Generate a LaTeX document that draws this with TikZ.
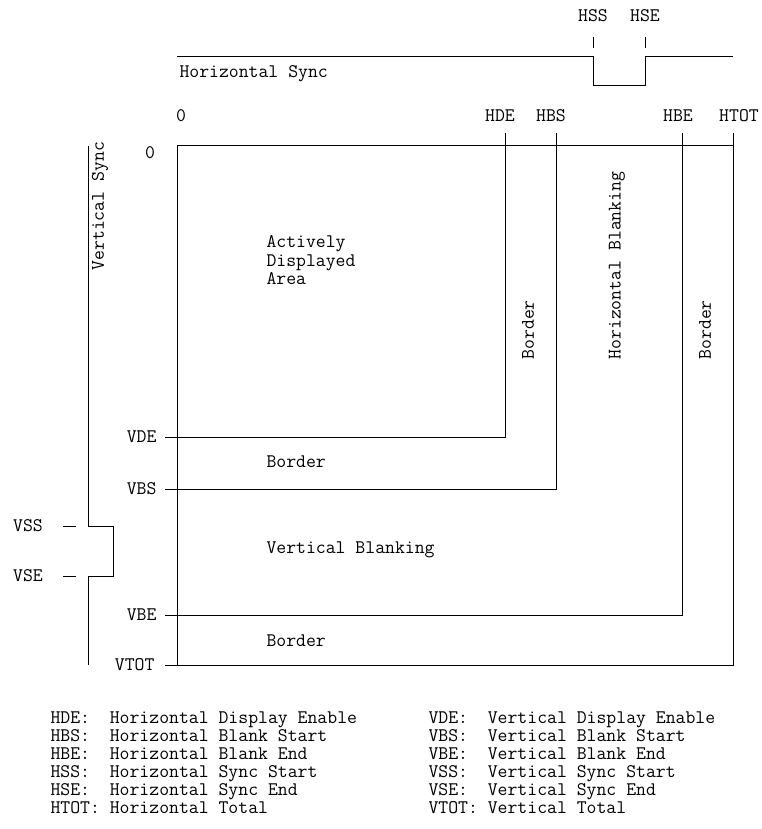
\documentclass[tikz,border=0pt]{standalone}
\usetikzlibrary{positioning}
\begin{document}
\begin{tikzpicture}[x=1pt,y=-1pt,line width=1pt,
  lbl/.style={font=\ttfamily\fontsize{19.2}{18.5}\selectfont,inner sep=0pt},
  uplbl/.style={lbl,rotate=90,anchor=west},
  key/.style={lbl,anchor=west},
  keyrow/.style={lbl,anchor=base west}]
  \useasboundingbox (0,0) rectangle (762,829);
  % horizontal sync
  \node[lbl] (hss) at (593,16) {HSS};
  \node[lbl] (hse) at (645,16) {HSE};
  \draw ([yshift=-14pt]hss.south) -- ++(0,11);
  \draw ([yshift=-14pt]hse.south) -- ++(0,11);
  \coordinate (hs0) at (177,57); \coordinate (hs1) at (593,57);
  \coordinate (hs2) at (645,57); \coordinate (hs3) at (733,57);
  \draw (hs0) -- (hs1) -- ++(0,29) -| (hs2) -- (hs3);
  \node[key] (hsync) at (179,74) {Horizontal Sync};
  % horizontal counts
  \node[lbl] (h0) at (181,116) {0};
  \node[lbl] (hde) at (500,116) {HDE};
  \node[lbl] (hbs) at (551,116) {HBS};
  \node[lbl] (hbe) at (678,116) {HBE};
  \node[lbl] (htot) at (739,116) {HTOT};
  % vertical counts
  \node[lbl] (v0) at (150,153) {0};
  \node[lbl,anchor=east] (vde) at (157,437) {VDE};
  \node[lbl,anchor=east] (vbs) at (157,489) {VBS};
  \node[lbl,anchor=east] (vbe) at (157,615) {VBE};
  \node[lbl,anchor=east] (vtot) at (155,665) {VTOT};
  % frame and the four regions
  \coordinate (org) at (177,146);
  \draw (org) -- (733,146);
  \draw (org) -- (177,665);
  \draw (505,133) -- (505,437) -- (vde.east -| 165,0);
  \draw (556,133) -- (556,489) -- (vbs.east -| 165,0);
  \draw (682,133) -- (682,615) -- (vbe.east -| 165,0);
  \draw (733,133) -- (733,665) -- (vtot.east -| 165,0);
  \node[lbl,align=left,anchor=north west] (act) at (266,235) {Actively\\Displayed\\Area};
  \node[key] (bdr1) at (266,462) {Border};
  \node[key] (vblank) at (266,550) {Vertical Blanking};
  \node[key] (bdr2) at (266,641) {Border};
  \node[uplbl] (bdr3) at (528,360) {Border};
  \node[uplbl] (hblank) at (617,360) {Horizontal Blanking};
  \node[uplbl] (bdr4) at (705,360) {Border};
  % vertical sync
  \node[uplbl] (vsync) at (100,271) {Vertical Sync};
  \coordinate (vs0) at (88,146); \coordinate (vs1) at (88,526);
  \coordinate (vs2) at (88,576); \coordinate (vs3) at (88,665);
  \draw (vs0) -- (vs1) -- ++(25,0) |- (vs2) -- (vs3);
  \node[lbl] (vss) at (28,526) {VSS};
  \node[lbl] (vse) at (28,576) {VSE};
  \draw ([xshift=20pt]vss.east) -- ++(13,0);
  \draw ([xshift=20pt]vse.east) -- ++(13,0);
  % legend
  \node[keyrow] (khde) at (50,723) {HDE:~~Horizontal Display Enable};
  \node[keyrow] (khbs) at (50,741) {HBS:~~Horizontal Blank Start};
  \node[keyrow] (khbe) at (50,759) {HBE:~~Horizontal Blank End};
  \node[keyrow] (khss) at (50,777) {HSS:~~Horizontal Sync Start};
  \node[keyrow] (khse) at (50,795) {HSE:~~Horizontal Sync End};
  \node[keyrow] (khtot) at (50,813) {HTOT:~Horizontal Total};
  \node[keyrow] (kvde) at (428,723) {VDE:~~Vertical Display Enable};
  \node[keyrow] (kvbs) at (428,741) {VBS:~~Vertical Blank Start};
  \node[keyrow] (kvbe) at (428,759) {VBE:~~Vertical Blank End};
  \node[keyrow] (kvss) at (428,777) {VSS:~~Vertical Sync Start};
  \node[keyrow] (kvse) at (428,795) {VSE:~~Vertical Sync End};
  \node[keyrow] (kvtot) at (428,813) {VTOT:~Vertical Total};
\end{tikzpicture}
\end{document}
